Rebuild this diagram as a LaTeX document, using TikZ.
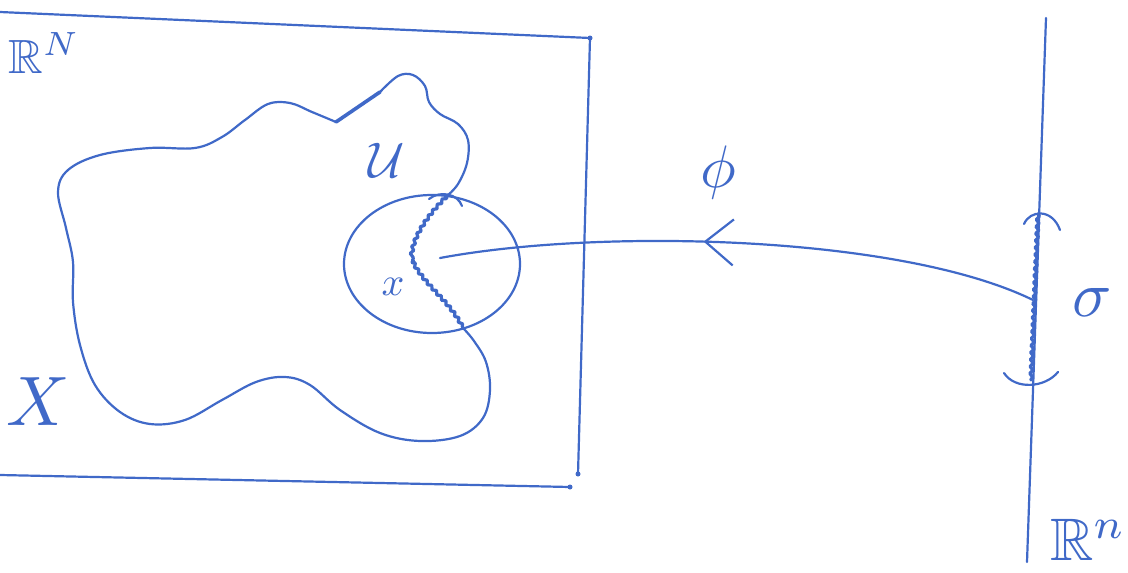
\documentclass[tikz,border=0pt]{standalone}
\usepackage{amssymb}
\usetikzlibrary{decorations.pathmorphing,decorations.markings,arrows.meta,shapes.geometric}
\definecolor{ink}{HTML}{4069C8}
\begin{document}
\begin{tikzpicture}[x=1pt,y=-1pt,line cap=round,line join=round,
  pen/.style={draw=ink,line width=2.2pt},
  thickpen/.style={draw=ink,line width=3.6pt},
  wavy/.style={draw=ink,line width=3.2pt,decorate,decoration={snake,segment length=7pt,amplitude=1.5pt}},
  lbl/.style={text=ink,inner sep=0pt,font=\fontsize{10}{12}\selectfont},
  dotmark/.style={circle,fill=ink,inner sep=0pt,minimum size=5pt}]
\fill[white] (0,0) rectangle (1128,573);
\useasboundingbox (0,0) rectangle (1128,573);

% frame of R^N
\coordinate (tl) at (0,12);
\node[dotmark] (tr) at (590,38) {};
\node[dotmark] (br) at (578,474) {};
\node[dotmark] (bb) at (570,487) {};
\coordinate (bl) at (0,475);
\draw[pen] (tl) -- (tr.center) -- (br.center);
\draw[pen] (bl) -- (bb.center);

% blob U (open part outside the disc)
\coordinate (ctop) at (447,196);
\coordinate (cbot) at (463,328);
\draw[pen] plot[smooth,tension=0.6] coordinates {
 (447,196) (458,184) (467,163) (468,140) (458,124) (440,114) (429,102) (425,86) (413,75) (398,76) (380,92)};
\draw[thickpen] (380,92) -- (336,122);
\draw[pen] plot[smooth,tension=0.6] coordinates {
 (336,122) (312,112) (290,103) (268,104) (245,120) (222,137) (195,148) (150,148) (100,155) (68,170) (58,192) (66,228) (73,262) (73,302) (80,345) (95,385) (120,412) (150,424) (185,420) (222,400) (256,382) (285,377) (310,385) (340,410) (380,433) (420,441) (460,436) (483,418) (490,390) (486,362) (474,341) (463,328)};

% disc around x
\node[draw=ink,line width=2.2pt,ellipse,minimum width=176pt,minimum height=138pt,inner sep=0pt] (disc) at (432,264) {};
\node[dotmark] (xpt) at (413,262) {};
\draw[wavy] (ctop) .. controls (428,215) and (410,240) .. (xpt.center);
\draw[wavy] (xpt.center) .. controls (425,285) and (450,300) .. (cbot);
\draw[pen] (429,199) .. controls (440,190) and (458,194) .. (462,206);

% labels in R^N
\node[lbl,scale=4.8] (RN) at (44,53) {$\mathbb{R}^N$};
\node[lbl,scale=7] (X) at (38,402) {$X$};
\node[lbl,scale=5] (U) at (387,160) {$\mathcal{U}$};
\node[lbl,scale=4] (x) at (393,287) {$x$};

% line R^n
\coordinate (ltop) at (1046,18);
\coordinate (lbot) at (1027,562);
\draw[pen] (ltop) -- (lbot);
\coordinate (stop) at (1038,214);
\coordinate (sbot) at (1031,380);
\coordinate (spt) at (1033,300);
\draw[wavy] (stop) -- (sbot);
\draw[pen] (1024,224) .. controls (1030,210) and (1052,208) .. (1060,230);
\draw[pen] (1004,373) .. controls (1015,390) and (1045,388) .. (1058,372);
\node[lbl,scale=6.5] (sigma) at (1092,303) {$\sigma$};
\node[lbl,scale=6] (Rn) at (1088,540) {$\mathbb{R}^n$};

% map phi
\draw[pen,postaction={decorate},decoration={markings,
  mark=at position 0.56 with {\arrow{Straight Barb[length=28pt,width=46pt,line width=2.2pt]}}}]
  (spt) .. controls (900,235) and (600,228) .. (440,258);
\node[lbl,scale=6] (phi) at (718,172) {$\phi$};
\end{tikzpicture}
\end{document}
